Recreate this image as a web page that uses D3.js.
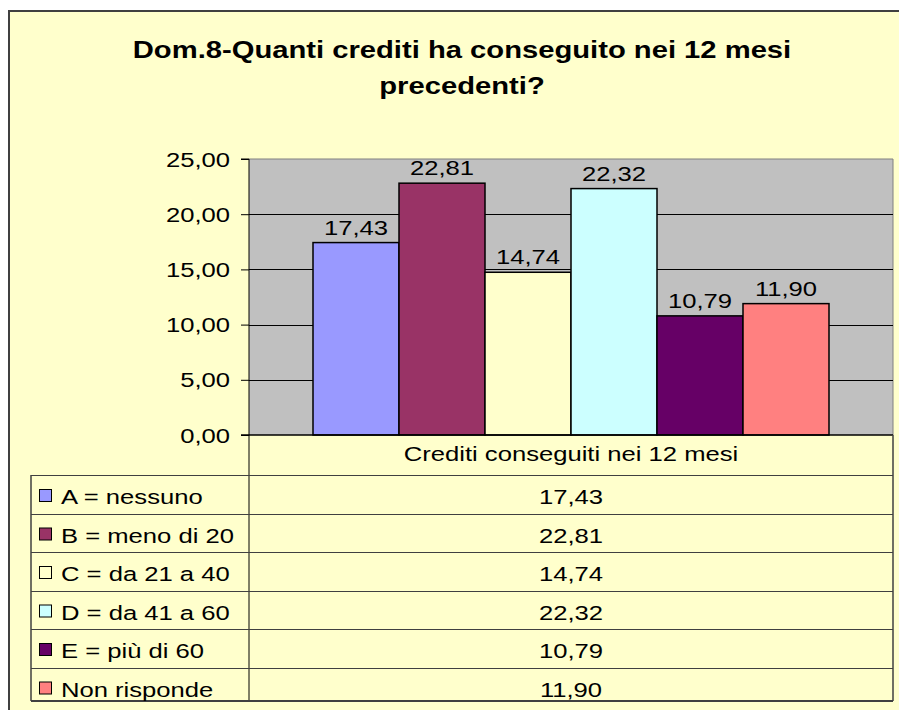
<!DOCTYPE html>
<html><head><meta charset="utf-8">
<script src="https://cdn.jsdelivr.net/npm/d3@7"></script>
<style>
html,body{margin:0;padding:0;background:#fff;}
text{font-family:"Liberation Sans",Arial,sans-serif;fill:#000;}
</style></head>
<body>
<svg id="c" width="899" height="710"></svg>
<script>
const titleLines = ["Dom.8-Quanti crediti ha conseguito nei 12 mesi", "precedenti?"];
const categories = ["A = nessuno", "B = meno di 20", "C = da 21 a 40", "D = da 41 a 60", "E = più di 60", "Non risponde"];
const values = [17.43, 22.81, 14.74, 22.32, 10.79, 11.90];
const colors = ["#9999FF", "#993366", "#FFFFCC", "#CCFFFF", "#660066", "#FF8080"];
const yTicks = [0, 5, 10, 15, 20, 25];
const groupLabel = "Crediti conseguiti nei 12 mesi";

const fmt = v => v.toFixed(2).replace(".", ",");
const SX = 1.25, FS = 20.5;
const svg = d3.select("#c");

// places a horizontally-stretched text label at (x,y)
function label(sel, x, y) {
  return sel.attr("transform", (d, i) => `translate(${typeof x === "function" ? x(d, i) : x},${typeof y === "function" ? y(d, i) : y}) scale(${SX},1)`);
}

// outer frame
svg.append("rect").attr("x", 9).attr("y", 11).attr("width", 1000).attr("height", 1000)
  .attr("fill", "#FFFFCC").attr("stroke", "#404040").attr("stroke-width", 2);

// title
svg.append("g").selectAll("text").data(titleLines).join("text")
  .attr("text-anchor", "middle").attr("font-weight", "bold").attr("font-size", 23)
  .attr("transform", (d, i) => `translate(462,${58 + i * 36}) scale(1.27,1)`)
  .text(d => d);

const plotL = 249, plotR = 893, plotT = 159, plotB = 435;
const y = d3.scaleLinear().domain([0, 25]).range([plotB, plotT]);
const x = d3.scaleBand().domain(categories).range([plotL, plotR]).paddingInner(0).paddingOuter(64 / 86);

// plot area
svg.append("rect").attr("x", plotL).attr("y", plotT).attr("width", plotR - plotL).attr("height", plotB - plotT)
  .attr("fill", "#C0C0C0");
svg.append("line").attr("x1", plotL).attr("x2", plotR).attr("y1", plotT).attr("y2", plotT).attr("stroke", "#808080");
svg.append("line").attr("x1", plotR).attr("x2", plotR).attr("y1", plotT).attr("y2", plotB).attr("stroke", "#808080");

// gridlines
svg.append("g").selectAll("line").data(yTicks.filter(t => t > 0 && t < 25)).join("line")
  .attr("x1", plotL).attr("x2", plotR).attr("y1", d => Math.round(y(d)) + 0.5).attr("y2", d => Math.round(y(d)) + 0.5)
  .attr("stroke", "#000").attr("stroke-width", 1);

// bars
svg.append("g").selectAll("rect").data(values).join("rect")
  .attr("x", (d, i) => x(categories[i]))
  .attr("y", d => y(d))
  .attr("width", x.bandwidth())
  .attr("height", d => plotB - y(d))
  .attr("fill", (d, i) => colors[i])
  .attr("stroke", "#000").attr("stroke-width", 1.5);

// bar labels
label(svg.append("g").selectAll("text").data(values).join("text"),
  (d, i) => x(categories[i]) + x.bandwidth() / 2, d => y(d) - 8)
  .attr("text-anchor", "middle").attr("font-size", FS)
  .text(d => fmt(d));

// y axis
const yAxis = d3.axisLeft(y).tickValues(yTicks).tickSize(8).tickPadding(0).tickFormat(fmt);
const ya = svg.append("g").attr("transform", `translate(${plotL},0)`).call(yAxis);
ya.attr("font-size", null).attr("font-family", null);
ya.select(".domain").attr("stroke", "#000").attr("d", `M-8,${plotT}H0V${plotB}`);
ya.selectAll(".tick line").attr("stroke", "#000");
ya.selectAll(".tick text").attr("x", null).attr("dy", "0.35em")
  .attr("transform", `translate(-19,0) scale(${SX},1)`)
  .attr("font-size", FS).attr("fill", "#000").attr("text-anchor", "end");

// x axis line
svg.append("line").attr("x1", plotL - 8).attr("x2", plotR).attr("y1", plotB).attr("y2", plotB).attr("stroke", "#000").attr("stroke-width", 1.5);

// data table
const tblL = 31, tblR = 893, headB = 475, rowH = 38.5, tblB = 701;
const rowTop = i => headB + i * rowH;
const tg = svg.append("g");
tg.append("line").attr("x1", plotL).attr("x2", plotL).attr("y1", plotB).attr("y2", tblB).attr("stroke", "#000");
tg.append("line").attr("x1", tblR).attr("x2", tblR).attr("y1", plotB).attr("y2", tblB).attr("stroke", "#404040").attr("stroke-width", 1.5);
tg.append("line").attr("x1", tblL).attr("x2", tblL).attr("y1", headB).attr("y2", tblB).attr("stroke", "#404040").attr("stroke-width", 1.5);
tg.selectAll("line.h").data(d3.range(categories.length)).join("line").attr("class", "h")
  .attr("x1", tblL).attr("x2", tblR).attr("y1", i => Math.round(rowTop(i)) + 0.5).attr("y2", i => Math.round(rowTop(i)) + 0.5)
  .attr("stroke", "#404040");
tg.append("line").attr("x1", tblL).attr("x2", tblR).attr("y1", tblB).attr("y2", tblB).attr("stroke", "#404040").attr("stroke-width", 2);

label(tg.append("text"), (plotL + tblR) / 2, 461)
  .attr("text-anchor", "middle").attr("font-size", FS).text(groupLabel);

const rows = tg.selectAll("g.row").data(categories).join("g").attr("class", "row")
  .attr("transform", (d, i) => `translate(0,${rowTop(i) + 22})`);
rows.append("rect").attr("x", 39.5).attr("y", -7.5).attr("width", 12).attr("height", 12)
  .attr("fill", (d, i) => colors[i]).attr("stroke", "#000").attr("stroke-width", 1);
label(rows.append("text"), 61, 7).attr("font-size", FS).text(d => d);
label(rows.append("text"), (plotL + tblR) / 2, 7).attr("text-anchor", "middle")
  .attr("font-size", FS).text((d, i) => fmt(values[i]));
</script>
</body></html>
